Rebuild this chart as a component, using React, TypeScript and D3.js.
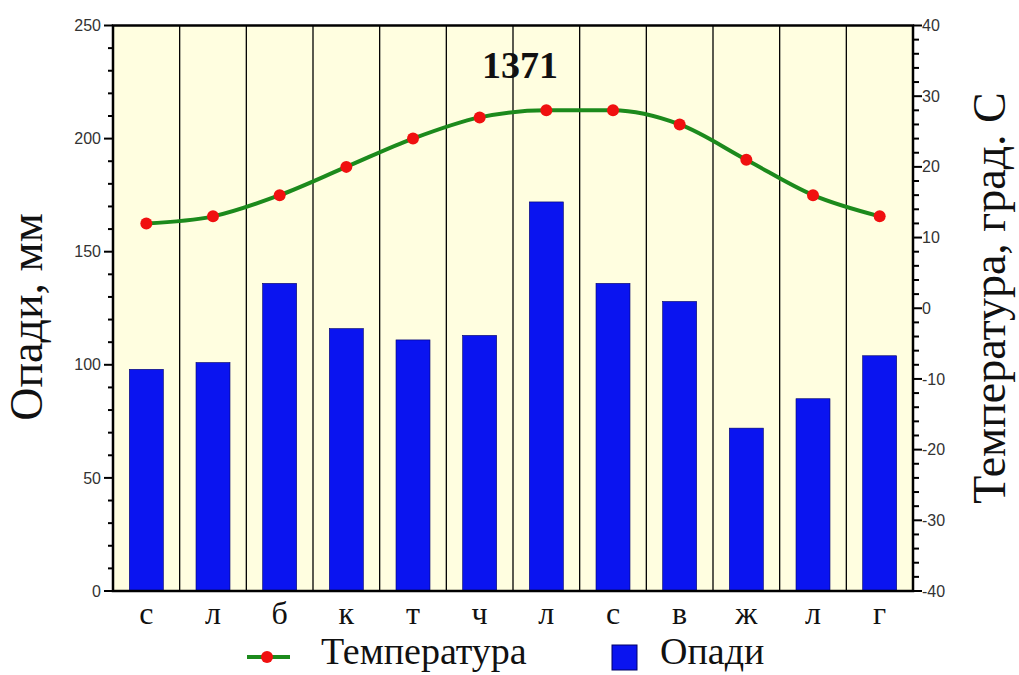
import React from "react";
import * as d3 from "d3";

const months = ["с", "л", "б", "к", "т", "ч", "л", "с", "в", "ж", "л", "г"];
const precipitation = [98, 101, 136, 116, 111, 113, 172, 136, 128, 72, 85, 104];
const temperature = [12, 13, 16, 20, 24, 27, 28, 28, 26, 21, 16, 13];
const leftTicks = [0, 50, 100, 150, 200, 250];
const rightTicks = [-40, -30, -20, -10, 0, 10, 20, 30, 40];
const title = "1371";

const W = 1019, H = 675;
const M = { left: 113, right: 913, top: 25.5, bottom: 591 };

export default function App() {
  const idx = months.map((_, i) => i);
  const x = d3.scaleBand<number>().domain(idx).range([M.left, M.right]).paddingInner(0).paddingOuter(0);
  const yL = d3.scaleLinear().domain([0, 250]).range([M.bottom, M.top]);
  const yR = d3.scaleLinear().domain([-40, 40]).range([M.bottom, M.top]);
  const bw = x.bandwidth();
  const barW = bw * 0.51;
  const cx = (i: number) => (x(i) as number) + bw / 2;
  const line = d3.line<number>().x((_, i) => cx(i)).y((d) => yR(d)).curve(d3.curveMonotoneX);
  const leftMinor = d3.range(0, 251, 10).filter((v) => v % 50 !== 0);
  const rightMinor = d3.range(-40, 41, 2).filter((v) => v % 10 !== 0);
  const sans = "Arial, 'Liberation Sans', sans-serif";
  const serif = "'Times New Roman', 'Liberation Serif', serif";

  return (
    <svg width={W} height={H} style={{ position: "absolute", left: 0, top: 0, background: "#fff" }}>
      <rect x={M.left} y={M.top} width={M.right - M.left} height={M.bottom - M.top} fill="#fffee0" />
      {idx.slice(1).map((i) => (
        <line key={"v" + i} x1={x(i)} x2={x(i)} y1={M.top} y2={M.bottom} stroke="#000" strokeWidth={1.3} />
      ))}
      {precipitation.map((v, i) => (
        <rect key={"b" + i} x={cx(i) - barW / 2} y={yL(v)} width={barW} height={yL(0) - yL(v)} fill="#0a14f0" stroke="#000066" strokeWidth={0.6} />
      ))}
      <path d={line(temperature) || ""} fill="none" stroke="#1c8a1c" strokeWidth={4} />
      {temperature.map((t, i) => (
        <circle key={"c" + i} cx={cx(i)} cy={yR(t)} r={6} fill="#f01010" />
      ))}
      <rect x={M.left} y={M.top} width={M.right - M.left} height={M.bottom - M.top} fill="none" stroke="#000" strokeWidth={2.5} />
      {/* left axis */}
      {leftTicks.map((v) => (
        <g key={"lt" + v}>
          <line x1={M.left - 9} x2={M.left} y1={yL(v)} y2={yL(v)} stroke="#000" strokeWidth={2} />
          <text x={M.left - 12} y={yL(v)} dy="0.35em" textAnchor="end" fontFamily={sans} fontSize={16} fill="#333">{v}</text>
        </g>
      ))}
      {leftMinor.map((v) => (
        <line key={"lm" + v} x1={M.left - 5} x2={M.left} y1={yL(v)} y2={yL(v)} stroke="#000" strokeWidth={2} />
      ))}
      {/* right axis */}
      {rightTicks.map((v) => (
        <g key={"rt" + v}>
          <line x1={M.right} x2={M.right + 9} y1={yR(v)} y2={yR(v)} stroke="#000" strokeWidth={2} />
          <text x={M.right + 9} y={yR(v)} dy="0.35em" textAnchor="start" fontFamily={sans} fontSize={16} fill="#333">{v}</text>
        </g>
      ))}
      {rightMinor.map((v) => (
        <line key={"rm" + v} x1={M.right} x2={M.right + 6} y1={yR(v)} y2={yR(v)} stroke="#000" strokeWidth={2} />
      ))}
      {/* x labels */}
      {months.map((m, i) => (
        <text key={"xl" + i} x={cx(i)} y={624} textAnchor="middle" fontFamily={serif} fontSize={32} fill="#111">{m}</text>
      ))}
      {/* axis titles */}
      <text transform={`translate(42,317) rotate(-90)`} textAnchor="middle" fontFamily={serif} fontSize={46} fill="#111">Опади, мм</text>
      <text transform={`translate(1005,298) rotate(-90)`} textAnchor="middle" fontFamily={serif} fontSize={46} fill="#111">Температура, град. С</text>
      {/* title */}
      <text x={520} y={78} textAnchor="middle" fontFamily={serif} fontSize={38} fontWeight="bold" fill="#111">{title}</text>
      {/* legend */}
      <line x1={247} x2={290} y1={657} y2={657} stroke="#1c8a1c" strokeWidth={4} />
      <circle cx={267} cy={657} r={6} fill="#f01010" />
      <text x={321} y={664} fontFamily={serif} fontSize={38} fill="#111">Температура</text>
      <rect x={612} y={645} width={25} height={25} fill="#0a14f0" stroke="#000066" strokeWidth={1} />
      <text x={660} y={664} fontFamily={serif} fontSize={38} fill="#111">Опади</text>
    </svg>
  );
}
